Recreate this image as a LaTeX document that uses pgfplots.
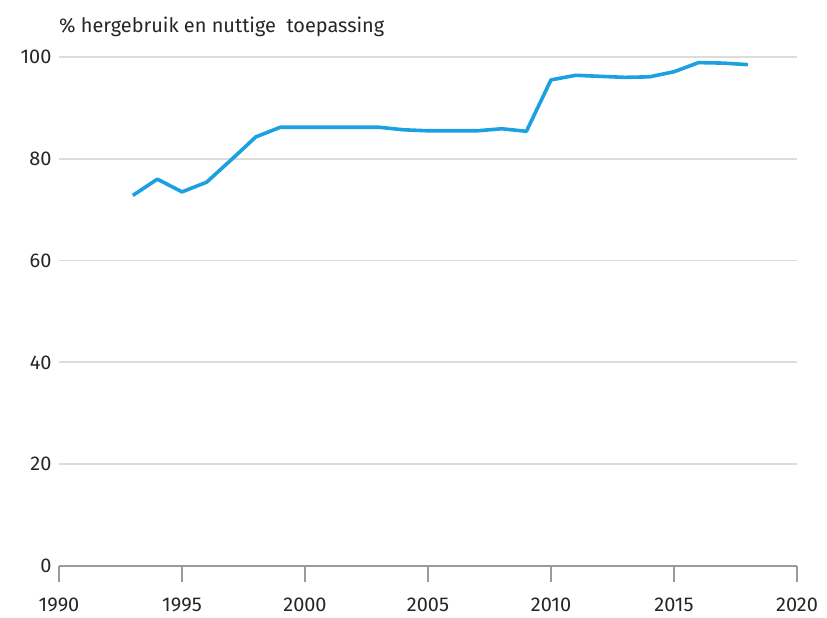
\documentclass[border=0pt]{standalone}
\usepackage{fontspec}
\setmainfont{Fira Sans}
\usepackage{pgfplots}
\pgfplotsset{compat=1.18}
\definecolor{lineblue}{HTML}{1BA1E2}
\definecolor{gridgray}{HTML}{DCDCDC}
\definecolor{axisgray}{HTML}{9A9A9A}
\begin{document}
\begin{tikzpicture}
\useasboundingbox (-59bp,-52bp) rectangle (768bp,566bp);
\begin{axis}[
  at={(0,0)}, anchor=south west,
  scale only axis, width=738bp, height=509bp,
  xmin=1990, xmax=2020, ymin=0, ymax=100,
  xtick={1990,1995,...,2020}, ytick={0,20,...,100},
  /pgf/number format/1000 sep={},
  /pgf/number format/assume math mode=true,
  axis x line*=bottom, axis y line*=left,
  y axis line style={draw=none},
  x axis line style={axisgray, line width=1.3bp, -},
  xtick style={axisgray, line width=1.3bp},
  xtick align=outside, major tick length=16bp,
  ymajorgrids, grid style={gridgray, line width=1.8bp},
  ytick style={draw=none},
  tick label style={font=\fontsize{20}{22}\selectfont, text=black!85},
  xticklabel style={yshift=-12bp},
  yticklabel style={xshift=-4bp},
  clip=false,
]
\addplot[lineblue, line width=3.6bp, line join=round] coordinates {
 (1993,72.8) (1994,76.0) (1995,73.5) (1996,75.4) (1997,79.8) (1998,84.3)
 (1999,86.2) (2000,86.2) (2001,86.2) (2002,86.2) (2003,86.2) (2004,85.7)
 (2005,85.5) (2006,85.5) (2007,85.5) (2008,85.9) (2009,85.4) (2010,95.5)
 (2011,96.4) (2012,96.2) (2013,96.0) (2014,96.1) (2015,97.1) (2016,98.9)
 (2017,98.8) (2018,98.5)
};
\node[anchor=base west, inner sep=0pt, font=\fontsize{20}{22}\selectfont, text=black!85]
  at ([yshift=24bp]rel axis cs:0,1) {\% hergebruik en nuttige\ \ toepassing};
\end{axis}
\end{tikzpicture}
\end{document}
